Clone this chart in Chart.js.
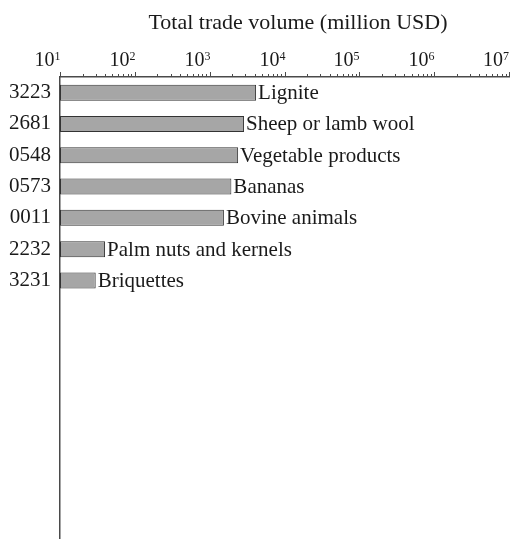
<!DOCTYPE html>
<html>
<head>
<meta charset="utf-8">
<title>Total trade volume</title>
<script src="https://cdn.jsdelivr.net/npm/chart.js@4/dist/chart.umd.min.js"></script>
<style>
  html, body { margin: 0; padding: 0; background: #fff; }
  #wrap { width: 510px; height: 539px; }
</style>
</head>
<body>
<div id="wrap"><canvas id="grafico" width="510" height="539"></canvas></div>
<script>
// product codes (left axis) and names (drawn next to bars)
const codigos = ["3223", "2681", "0548", "0573", "0011", "2232", "3231"];
const nomes = ["Lignite", "Sheep or lamb wool", "Vegetable products", "Bananas", "Bovine animals", "Palm nuts and kernels", "Briquettes"];
// trade volume, million USD
const volumes = [4170, 2880, 2400, 1950, 1550, 40, 30];
// decade ticks of the log axis
const decadas = [1, 2, 3, 4, 5, 6, 7];

const FONTE = "'Liberation Serif', 'Times New Roman', serif";
const COR_TEXTO = "#1a1a1a";
const COR_EIXO = "#4a4a4a";

// tick marks + 10^n labels for the top axis
const eixoLog = {
    id: "eixoLog",
    afterDraw(chart) {
        const ctx = chart.ctx;
        const x = chart.scales.x;
        const topo = chart.chartArea.top;
        ctx.save();
        ctx.strokeStyle = COR_EIXO;
        ctx.lineWidth = 1;
        decadas.forEach((d, i) => {
            const base = Math.pow(10, d);
            const px = Math.round(x.getPixelForValue(base)) + 0.5;
            ctx.beginPath();
            ctx.moveTo(px, topo);
            ctx.lineTo(px, topo - 5);
            ctx.stroke();
            if (i < decadas.length - 1) {
                for (let m = 2; m <= 9; m++) {
                    const pm = Math.round(x.getPixelForValue(base * m)) + 0.5;
                    ctx.beginPath();
                    ctx.moveTo(pm, topo);
                    ctx.lineTo(pm, topo - 3);
                    ctx.stroke();
                }
            }
            // label: "10" with a raised exponent, right edge on the tick
            ctx.fillStyle = COR_TEXTO;
            ctx.textBaseline = "alphabetic";
            ctx.textAlign = "right";
            ctx.font = "12px " + FONTE;
            const larguraExp = ctx.measureText(String(d)).width;
            const xr = Math.min(px, chart.width - 1);
            ctx.fillText(String(d), xr, 60);
            ctx.font = "20px " + FONTE;
            ctx.fillText("10", xr - larguraExp, 66);
        });

        // axis title
        ctx.font = "22px " + FONTE;
        ctx.textAlign = "center";
        ctx.fillText("Total trade volume (million USD)", 298, 29);
        ctx.restore();
    }
};

// product names to the right of each bar
const rotulosBarras = {
    id: "rotulosBarras",
    afterDatasetsDraw(chart) {
        const ctx = chart.ctx;
        const meta = chart.getDatasetMeta(0);
        ctx.save();
        ctx.font = "21px " + FONTE;
        ctx.fillStyle = COR_TEXTO;
        ctx.textAlign = "left";
        ctx.textBaseline = "middle";
        meta.data.forEach((barra, i) => {
            ctx.fillText(nomes[i], barra.x + 2, barra.y + 1);
        });
        ctx.restore();
    }
};

const ctx = document.getElementById("grafico").getContext("2d");
window.graficoComercio = new Chart(ctx, {
    type: "bar",
    data: {
        datasets: [{
            data: volumes.map((v, i) => ({ x: v, y: i })),
            backgroundColor: "#a6a6a6",
            borderColor: "#333333",
            borderWidth: 1,
            borderSkipped: false,
            barPercentage: 0.51,
            categoryPercentage: 1
        }]
    },
    options: {
        indexAxis: "y",
        responsive: false,
        animation: false,
        layout: { padding: { left: 0, right: 1, top: 0, bottom: 0 } },
        plugins: {
            legend: { display: false },
            tooltip: { enabled: false }
        },
        scales: {
            x: {
                type: "logarithmic",
                position: "top",
                min: 10,
                max: 1e7,
                afterBuildTicks: (scale) => {
                    scale.ticks = decadas.map((d) => ({ value: Math.pow(10, d) }));
                },
                afterFit: (scale) => { scale.height = 77; },
                ticks: { display: false },
                grid: { drawOnChartArea: false, drawTicks: false },
                border: { display: true, color: COR_EIXO, width: 1.5 }
            },
            y: {
                type: "linear",
                reverse: true,
                offset: false,
                min: -0.5,
                max: 14.26,
                afterBuildTicks: (scale) => {
                    scale.ticks = codigos.map((c, i) => ({ value: i }));
                },
                afterFit: (scale) => {
                    scale.width = 60;
                    scale.paddingTop = 0;
                    scale.paddingBottom = 0;
                },
                ticks: {
                    padding: 9,
                    color: COR_TEXTO,
                    font: { family: FONTE, size: 21 },
                    callback: (v) => codigos[v] || ""
                },
                grid: { offset: false, drawOnChartArea: false, drawTicks: false },
                border: { display: true, color: COR_EIXO, width: 1.5 }
            }
        }
    },
    plugins: [eixoLog, rotulosBarras]
});
</script>
</body>
</html>
